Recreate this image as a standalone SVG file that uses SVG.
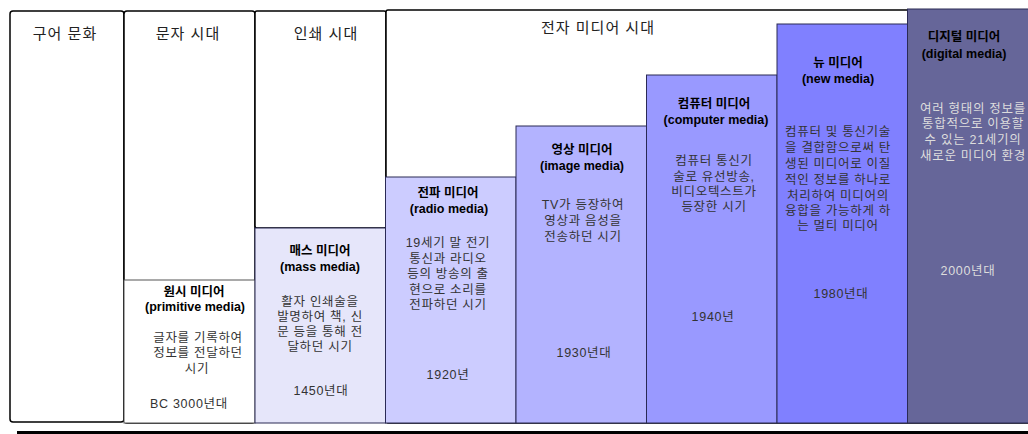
<svg xmlns="http://www.w3.org/2000/svg" width="1028" height="434" viewBox="0 0 1028 434">
<style>
text{font-family:"Liberation Sans","Noto Sans CJK KR",sans-serif;text-anchor:middle}
.era{fill:#fff;stroke:#000;stroke-width:1.5}
.eh{font-size:15px;fill:#222;letter-spacing:1px}
.box{stroke:#2a2a55;stroke-width:1}
.t{font-size:12.5px;font-weight:bold;fill:#000}
.d{font-size:12.5px;fill:#333;letter-spacing:0.7px}
.dl{font-size:12.5px;fill:#ddd;letter-spacing:0.7px}
</style>
<rect width="1028" height="434" fill="#fff"/>
<g id="era-oral"><rect class="era" x="10" y="11" width="114" height="411" rx="3"/><text class="eh" x="65" y="39">구어 문화</text></g>
<g id="era-script"><rect class="era" x="124" y="11" width="131" height="412" rx="3"/><text class="eh" x="188" y="39">문자 시대</text></g>
<g id="era-print"><rect class="era" x="255" y="11" width="131" height="217" rx="2"/><text class="eh" x="326" y="39">인쇄 시대</text></g>
<g id="era-electronic"><rect class="era" x="386" y="10" width="680" height="413" rx="2"/><text class="eh" x="598" y="33">전자 미디어 시대</text></g>
<g id="primitive"><rect x="124" y="280" width="131" height="143" fill="#fff" stroke="#555" stroke-width="1"/>
<text class="t" x="194" y="295.5">원시 미디어</text><text class="t" x="195" y="310.5">(primitive media)</text>
<text class="d" x="198" y="341.5">글자를 기록하여</text><text class="d" x="198" y="357">정보를 전달하던</text><text class="d" x="197" y="372.5">시기</text>
<text class="d" x="189" y="407.5">BC 3000년대</text></g>
<g id="mass"><rect class="box" x="255" y="228" width="130.5" height="195" fill="#e6e6fa"/>
<text class="t" x="320" y="255">매스 미디어</text><text class="t" x="320" y="270.5">(mass media)</text>
<text class="d" x="320" y="305.5">활자 인쇄술을</text><text class="d" x="320" y="321">발명하여 책, 신</text><text class="d" x="320" y="336">문 등을 통해 전</text><text class="d" x="320" y="351">달하던 시기</text>
<text class="d" x="321" y="394.5">1450년대</text></g>
<g id="radio"><rect class="box" x="385.5" y="177" width="130.5" height="246" fill="#ccccff"/>
<text class="t" x="448" y="197">전파 미디어</text><text class="t" x="449" y="212.5">(radio media)</text>
<text class="d" x="448" y="247">19세기 말 전기</text><text class="d" x="448" y="262.5">통신과 라디오</text><text class="d" x="448" y="278">등의 방송의 출</text><text class="d" x="448" y="293.5">현으로 소리를</text><text class="d" x="448" y="309">전파하던 시기</text>
<text class="d" x="448" y="378.5">1920년</text></g>
<g id="image"><rect class="box" x="516" y="126" width="130.5" height="297" fill="#b3b3ff"/>
<text class="t" x="582" y="153.5">영상 미디어</text><text class="t" x="582" y="169.5">(image media)</text>
<text class="d" x="583" y="209">TV가 등장하여</text><text class="d" x="583" y="224.5">영상과 음성을</text><text class="d" x="583" y="240.5">전송하던 시기</text>
<text class="d" x="584" y="357">1930년대</text></g>
<g id="computer"><rect class="box" x="646.5" y="75" width="130.5" height="348" fill="#9999ff"/>
<text class="t" x="714" y="108">컴퓨터 미디어</text><text class="t" x="716" y="124">(computer media)</text>
<text class="d" x="714" y="164.5">컴퓨터 통신기</text><text class="d" x="714" y="180.5">술로 유선방송,</text><text class="d" x="714" y="196">비디오텍스트가</text><text class="d" x="714" y="211">등장한 시기</text>
<text class="d" x="713" y="321">1940년</text></g>
<g id="new"><rect class="box" x="777" y="24" width="130.5" height="399" fill="#8080ff"/>
<text class="t" x="838" y="67">뉴 미디어</text><text class="t" x="838" y="83">(new media)</text>
<text class="d" x="838" y="136">컴퓨터 및 통신기술</text><text class="d" x="838" y="152">을 결합함으로써 탄</text><text class="d" x="838" y="167.5">생된 미디어로 이질</text><text class="d" x="838" y="183.5">적인 정보를 하나로</text><text class="d" x="838" y="199.5">처리하여 미디어의</text><text class="d" x="838" y="215">융합을 가능하게 하</text><text class="d" x="838" y="230">는 멀티 미디어</text>
<text class="d" x="841" y="298">1980년대</text></g>
<g id="digital"><rect class="box" x="907.5" y="9" width="140" height="414" fill="#666699"/>
<text class="t" x="964" y="41">디지털 미디어</text><text class="t" x="964" y="57.5">(digital media)</text>
<text class="dl" x="973" y="112.5">여러 형태의 정보를</text><text class="dl" x="973" y="128">통합적으로 이용할</text><text class="dl" x="973" y="144">수 있는 21세기의</text><text class="dl" x="973" y="159.5">새로운 미디어 환경</text>
<text class="dl" x="968" y="274.5">2000년대</text></g>
<g id="connectors"><rect x="17" y="431" width="1011" height="4" fill="#000"/></g>
</svg>
